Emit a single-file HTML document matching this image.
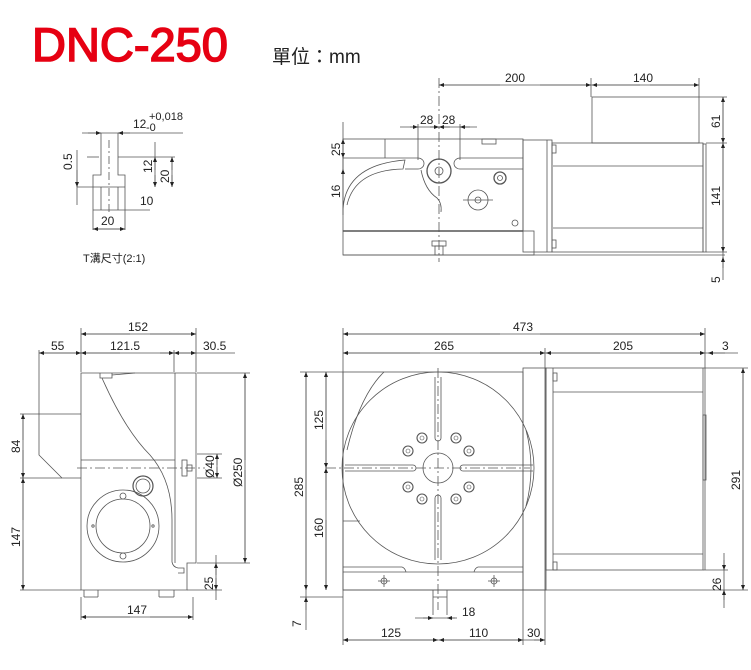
<!DOCTYPE html>
<html><head><meta charset="utf-8"><style>
html,body{margin:0;padding:0;background:#fff;width:751px;height:670px;overflow:hidden}
svg{display:block}
text{font-family:"Liberation Sans","Noto Sans CJK TC",sans-serif;fill:#222;font-size:12px}
</style></head><body>
<svg width="751" height="670" viewBox="0 0 751 670" xmlns="http://www.w3.org/2000/svg">
<defs>
<marker id="a" viewBox="0 0 10 10" refX="10" refY="5" markerWidth="7" markerHeight="5" orient="auto-start-reverse" markerUnits="userSpaceOnUse"><path d="M0,1 L10,5 L0,9 z" fill="#222"/></marker>
</defs>
<text x="32" y="61" style="font-size:47px;font-weight:normal;fill:#e60012;stroke:#e60012;stroke-width:1.6">DNC-250</text>
<text x="272" y="63" style="font-size:19px;fill:#222;font-family:'Liberation Sans','Noto Sans CJK TC',sans-serif">單位：mm</text>

<g stroke="#555" stroke-width="0.8" fill="none">
<!-- T slot -->
<line x1="82" y1="133" x2="183" y2="133"/>
<line x1="88" y1="133" x2="101" y2="133" marker-end="url(#a)"/>
<line x1="130" y1="133" x2="118" y2="133" marker-end="url(#a)"/>
<path d="M101,133 V175 H93 V230 M118,133 V175 H125 V230"/>
<path d="M101,187 V210 M118,187 V210"/>
<line x1="77" y1="187" x2="125" y2="187"/>
<line x1="87" y1="157" x2="99" y2="157"/>
<line x1="118" y1="157" x2="175" y2="157"/>
<line x1="109" y1="140" x2="109" y2="215" stroke-dasharray="8,3,2,3"/>
<line x1="77" y1="150" x2="77" y2="205"/>
<line x1="77" y1="170" x2="77" y2="187" marker-end="url(#a)"/>
<line x1="155" y1="142" x2="155" y2="187"/>
<line x1="155" y1="170" x2="155" y2="157" marker-end="url(#a)"/>
<line x1="155" y1="175" x2="155" y2="187" marker-end="url(#a)"/>
<line x1="172" y1="157" x2="172" y2="187"/>
<line x1="172" y1="170" x2="172" y2="157" marker-end="url(#a)"/>
<line x1="172" y1="175" x2="172" y2="187" marker-end="url(#a)"/>
<line x1="93" y1="210" x2="150" y2="210"/>
<line x1="93" y1="229" x2="125" y2="229"/>
<line x1="109" y1="229" x2="93" y2="229" marker-end="url(#a)"/>
<line x1="109" y1="229" x2="125" y2="229" marker-end="url(#a)"/>

<!-- side view top right -->
<line x1="439" y1="85" x2="699" y2="85"/>
<line x1="500" y1="85" x2="439" y2="85" marker-end="url(#a)"/>
<line x1="540" y1="85" x2="591" y2="85" marker-end="url(#a)"/>
<line x1="640" y1="85" x2="592" y2="85" marker-end="url(#a)"/>
<line x1="650" y1="85" x2="699" y2="85" marker-end="url(#a)"/>
<line x1="439" y1="78" x2="439" y2="262" stroke-dasharray="10,3,2,3"/>
<line x1="699" y1="78" x2="699" y2="97"/>
<line x1="591" y1="78" x2="591" y2="97"/>
<rect x="592" y="97" width="107" height="46"/>
<line x1="699" y1="97" x2="727" y2="97"/>
<line x1="706" y1="143" x2="727" y2="143"/>
<line x1="706" y1="252" x2="727" y2="252"/>
<line x1="723" y1="97" x2="723" y2="280"/>
<line x1="723" y1="120" x2="723" y2="97" marker-end="url(#a)"/>
<line x1="723" y1="120" x2="723" y2="143" marker-end="url(#a)"/>
<line x1="723" y1="190" x2="723" y2="143" marker-end="url(#a)"/>
<line x1="723" y1="200" x2="723" y2="252" marker-end="url(#a)"/>
<line x1="723" y1="268" x2="723" y2="257" marker-end="url(#a)"/>
<rect x="343" y="139" width="180" height="92"/>
<rect x="343" y="231" width="191" height="24"/>
<line x1="343" y1="231" x2="523" y2="231" stroke-width="1.6"/>
<line x1="343" y1="158" x2="418" y2="158"/><line x1="460" y1="158" x2="523" y2="158"/>
<line x1="405" y1="169" x2="418" y2="169"/><line x1="460" y1="169" x2="523" y2="169"/>
<path d="M418,158 A6,5.5 0 0 1 418,169 M460,158 A6,5.5 0 0 0 460,169"/>
<path d="M421,170 Q425,190 437,198 Q442,203 441,212"/>
<line x1="385" y1="139" x2="385" y2="158"/>
<path d="M343,210 Q345,165 405,160 L403,169 Q355,170 347,205"/>
<rect x="482" y="139" width="14" height="5"/>
<circle cx="439" cy="171" r="12" stroke-width="1.3"/>
<circle cx="439" cy="171" r="4"/>
<circle cx="500" cy="178" r="6" stroke-width="1.3"/><circle cx="500" cy="178" r="2.5"/>
<circle cx="478" cy="200" r="10"/><circle cx="478" cy="200" r="3"/>
<line x1="463" y1="200" x2="493" y2="200"/>
<circle cx="515" cy="223" r="3"/>
<rect x="523" y="140" width="29" height="112"/>
<line x1="547" y1="140" x2="547" y2="252"/>
<rect x="552" y="143" width="151" height="109"/>
<line x1="553" y1="166" x2="703" y2="166"/>
<line x1="553" y1="228" x2="703" y2="228"/>
<rect x="703" y="144" width="3" height="108"/>
<rect x="552" y="145" width="4" height="8"/><rect x="552" y="240" width="4" height="8"/>
<rect x="432" y="241" width="14" height="5"/><rect x="435" y="246" width="8" height="9"/>
<line x1="343" y1="255" x2="725" y2="255"/>
<line x1="400" y1="127" x2="477" y2="127"/>
<line x1="410" y1="127" x2="418" y2="127" marker-end="url(#a)"/>
<line x1="430" y1="127" x2="439" y2="127" marker-end="url(#a)"/>
<line x1="450" y1="127" x2="439" y2="127" marker-end="url(#a)"/>
<line x1="470" y1="127" x2="460" y2="127" marker-end="url(#a)"/>
<line x1="418" y1="124" x2="418" y2="160"/><line x1="460" y1="124" x2="460" y2="160"/>
<line x1="343" y1="122" x2="343" y2="215"/>
<line x1="343" y1="150" x2="343" y2="139" marker-end="url(#a)"/>
<line x1="343" y1="150" x2="343" y2="158" marker-end="url(#a)"/>
<line x1="343" y1="190" x2="343" y2="169" marker-end="url(#a)"/>

<!-- front view left -->
<line x1="81" y1="334" x2="196" y2="334"/>
<line x1="130" y1="334" x2="81" y2="334" marker-end="url(#a)"/>
<line x1="150" y1="334" x2="196" y2="334" marker-end="url(#a)"/>
<line x1="39" y1="353" x2="235" y2="353"/>
<line x1="60" y1="353" x2="81" y2="353" marker-end="url(#a)"/>
<line x1="60" y1="353" x2="39" y2="353" marker-end="url(#a)"/>
<line x1="120" y1="353" x2="81" y2="353" marker-end="url(#a)"/>
<line x1="160" y1="353" x2="174" y2="353" marker-end="url(#a)"/>
<line x1="185" y1="353" x2="174" y2="353" marker-end="url(#a)"/>
<line x1="185" y1="353" x2="196" y2="353" marker-end="url(#a)"/>
<line x1="81" y1="328" x2="81" y2="372"/><line x1="196" y1="328" x2="196" y2="372"/>
<line x1="39" y1="350" x2="39" y2="414"/><line x1="174" y1="350" x2="174" y2="372"/>
<path d="M81,373 H196 V563 H187 V590 H81 Z"/>
<line x1="175" y1="373" x2="175" y2="563"/>
<line x1="81" y1="460" x2="175" y2="460"/>
<path d="M81,414 H39 V455 L62,478 H81"/>
<line x1="20" y1="414" x2="39" y2="414"/><line x1="20" y1="478" x2="62" y2="478"/><line x1="20" y1="590" x2="81" y2="590"/>
<line x1="23" y1="414" x2="23" y2="590"/>
<line x1="23" y1="440" x2="23" y2="414" marker-end="url(#a)"/>
<line x1="23" y1="450" x2="23" y2="478" marker-end="url(#a)"/>
<line x1="23" y1="520" x2="23" y2="478" marker-end="url(#a)"/>
<line x1="23" y1="540" x2="23" y2="590" marker-end="url(#a)"/>
<line x1="77" y1="468" x2="205" y2="468" stroke-dasharray="10,3,2,3"/>
<path d="M102,378 Q125,430 150,455 Q172,480 172,520 V562 Q173,567 178,568 H184 V573 H178"/>
<path d="M100,373 V378 H112 V373 M112,375 L135,373"/>
<circle cx="123" cy="526" r="36"/><circle cx="123" cy="526" r="27"/>
<circle cx="123" cy="496" r="3"/><circle cx="123" cy="556" r="3"/>
<circle cx="93" cy="526" r="1.2"/><circle cx="153" cy="526" r="1.2"/>
<circle cx="143" cy="486" r="10" stroke-width="1.2"/><circle cx="143" cy="486" r="7"/>
<rect x="182" y="460" width="5" height="16"/><rect x="187" y="465" width="5" height="6"/>
<line x1="84" y1="590" x2="84" y2="597"/><line x1="98" y1="590" x2="98" y2="597"/><line x1="84" y1="597" x2="98" y2="597"/>
<line x1="159" y1="590" x2="159" y2="597"/><line x1="174" y1="590" x2="174" y2="597"/><line x1="159" y1="597" x2="174" y2="597"/>
<line x1="197" y1="454" x2="222" y2="454"/><line x1="197" y1="478" x2="222" y2="478"/>
<line x1="217" y1="454" x2="217" y2="478"/>
<line x1="217" y1="465" x2="217" y2="454" marker-end="url(#a)"/>
<line x1="217" y1="467" x2="217" y2="478" marker-end="url(#a)"/>
<line x1="197" y1="373" x2="250" y2="373"/><line x1="197" y1="563" x2="250" y2="563"/>
<line x1="245" y1="373" x2="245" y2="563"/>
<line x1="245" y1="460" x2="245" y2="373" marker-end="url(#a)"/>
<line x1="245" y1="470" x2="245" y2="563" marker-end="url(#a)"/>
<line x1="187" y1="590" x2="222" y2="590"/>
<line x1="216" y1="555" x2="216" y2="600"/>
<line x1="216" y1="575" x2="216" y2="563" marker-end="url(#a)"/>
<line x1="216" y1="578" x2="216" y2="590" marker-end="url(#a)"/>
<line x1="81" y1="597" x2="81" y2="620"/><line x1="193" y1="597" x2="193" y2="620"/>
<line x1="81" y1="617" x2="193" y2="617"/>
<line x1="130" y1="617" x2="81" y2="617" marker-end="url(#a)"/>
<line x1="150" y1="617" x2="193" y2="617" marker-end="url(#a)"/>

<!-- top view right -->
<line x1="343" y1="334" x2="705" y2="334"/>
<line x1="500" y1="334" x2="343" y2="334" marker-end="url(#a)"/>
<line x1="540" y1="334" x2="705" y2="334" marker-end="url(#a)"/>
<line x1="343" y1="353" x2="738" y2="353"/>
<line x1="420" y1="353" x2="343" y2="353" marker-end="url(#a)"/>
<line x1="480" y1="353" x2="545" y2="353" marker-end="url(#a)"/>
<line x1="600" y1="353" x2="546" y2="353" marker-end="url(#a)"/>
<line x1="660" y1="353" x2="705" y2="353" marker-end="url(#a)"/>
<line x1="725" y1="353" x2="708" y2="353" marker-end="url(#a)"/>
<line x1="343" y1="328" x2="343" y2="645"/>
<line x1="705" y1="328" x2="705" y2="570"/>
<line x1="545" y1="348" x2="545" y2="645"/>
<rect x="343" y="372" width="180" height="218"/>
<line x1="343" y1="572" x2="523" y2="572"/>
<line x1="343" y1="521" x2="360" y2="521"/>
<path d="M343,567 H402 Q405,568 406,572 M474,572 Q475,568 478,567 H523"/>
<path d="M347,450 Q360,395 384,372"/>
<circle cx="438" cy="468" r="96"/>
<path d="M526,430 Q536,468 526,506"/>
<rect x="523" y="368" width="23" height="222"/>
<rect x="546" y="368" width="157" height="202"/>
<line x1="553" y1="368" x2="553" y2="570"/>
<line x1="553" y1="392" x2="703" y2="392"/>
<line x1="553" y1="554" x2="703" y2="554"/>
<rect x="553" y="373" width="4" height="8"/><rect x="553" y="562" width="4" height="8"/>
<rect x="703" y="415" width="3" height="65"/>
<line x1="343" y1="590" x2="748" y2="590"/>
<line x1="300" y1="372" x2="343" y2="372"/>
<line x1="300" y1="597" x2="343" y2="597"/>
<line x1="306" y1="372" x2="306" y2="630"/>
<line x1="306" y1="480" x2="306" y2="372" marker-end="url(#a)"/>
<line x1="306" y1="480" x2="306" y2="590" marker-end="url(#a)"/>
<line x1="306" y1="610" x2="306" y2="597" marker-end="url(#a)"/>
<line x1="326" y1="372" x2="326" y2="590"/>
<line x1="326" y1="420" x2="326" y2="372" marker-end="url(#a)"/>
<line x1="326" y1="440" x2="326" y2="468" marker-end="url(#a)"/>
<line x1="326" y1="500" x2="326" y2="468" marker-end="url(#a)"/>
<line x1="326" y1="520" x2="326" y2="590" marker-end="url(#a)"/>
<line x1="326" y1="468" x2="530" y2="468" stroke-dasharray="10,3,2,3"/>
<line x1="438" y1="368" x2="438" y2="610" stroke-dasharray="10,3,2,3"/>
<path d="M435,438 V377 M441,438 V377 M435,438 A3,3 0 0 0 441,438"/>
<path d="M435,498 V560 M441,498 V560 M435,498 A3,3 0 0 1 441,498"/>
<path d="M413,465 H345 M413,471 H345 M413,465 A3,3 0 0 1 413,471"/>
<path d="M463,465 H533 M463,471 H533 M463,465 A3,3 0 0 0 463,471"/>
<circle cx="438" cy="468" r="15"/>
<g stroke-width="1.1">
<circle cx="422" cy="438" r="5"/><circle cx="456" cy="438" r="5"/>
<circle cx="408" cy="451" r="5"/><circle cx="469" cy="451" r="5"/>
<circle cx="408" cy="487" r="5"/><circle cx="469" cy="487" r="5"/>
<circle cx="422" cy="499" r="5"/><circle cx="456" cy="499" r="5"/>
</g>
<g stroke-width="0.6">
<circle cx="422" cy="438" r="2"/><circle cx="456" cy="438" r="2"/>
<circle cx="408" cy="451" r="2"/><circle cx="469" cy="451" r="2"/>
<circle cx="408" cy="487" r="2"/><circle cx="469" cy="487" r="2"/>
<circle cx="422" cy="499" r="2"/><circle cx="456" cy="499" r="2"/>
</g>
<circle cx="384" cy="581" r="3"/><line x1="378" y1="581" x2="390" y2="581"/><line x1="384" y1="575" x2="384" y2="587"/>
<circle cx="494" cy="581" r="3"/><line x1="488" y1="581" x2="500" y2="581"/><line x1="494" y1="575" x2="494" y2="587"/>
<path d="M433,590 V615 M447,590 V615 M433,597 H447"/>
<line x1="415" y1="618" x2="455" y2="618"/>
<line x1="423" y1="618" x2="433" y2="618" marker-end="url(#a)"/>
<line x1="457" y1="618" x2="447" y2="618" marker-end="url(#a)"/>
<line x1="523" y1="590" x2="523" y2="645"/>
<line x1="343" y1="640" x2="545" y2="640"/>
<line x1="390" y1="640" x2="343" y2="640" marker-end="url(#a)"/>
<line x1="400" y1="640" x2="438" y2="640" marker-end="url(#a)"/>
<line x1="480" y1="640" x2="439" y2="640" marker-end="url(#a)"/>
<line x1="490" y1="640" x2="523" y2="640" marker-end="url(#a)"/>
<line x1="534" y1="640" x2="545" y2="640" marker-end="url(#a)"/>
<line x1="703" y1="368" x2="748" y2="368"/>
<line x1="743" y1="368" x2="743" y2="590"/>
<line x1="743" y1="470" x2="743" y2="368" marker-end="url(#a)"/>
<line x1="743" y1="490" x2="743" y2="590" marker-end="url(#a)"/>
<line x1="724" y1="553" x2="724" y2="608"/>
<line x1="724" y1="560" x2="724" y2="570" marker-end="url(#a)"/>
<line x1="724" y1="600" x2="724" y2="590" marker-end="url(#a)"/>
<line x1="703" y1="570" x2="728" y2="570"/>
</g>

<!-- text -->
<text x="133" y="128">12</text>
<text x="149" y="120" style="font-size:11px">+0,018</text>
<text x="146" y="131" style="font-size:11px">-0</text>
<text x="140" y="205">10</text>
<text x="101" y="225">20</text>
<text transform="translate(72,170) rotate(-90)">0.5</text>
<text transform="translate(152,173) rotate(-90)">12</text>
<text transform="translate(169,183) rotate(-90)">20</text>
<text x="83" y="262" style="font-size:11px">T溝尺寸(2:1)</text>

<text x="505" y="82">200</text>
<text x="633" y="82">140</text>
<text x="420" y="124">28</text>
<text x="442" y="124">28</text>
<text transform="translate(720,128) rotate(-90)">61</text>
<text transform="translate(720,206) rotate(-90)">141</text>
<text transform="translate(720,283) rotate(-90)">5</text>
<text transform="translate(340,156) rotate(-90)">25</text>
<text transform="translate(340,198) rotate(-90)">16</text>

<text x="128" y="331">152</text>
<text x="51" y="350">55</text>
<text x="110" y="350">121.5</text>
<text x="203" y="350">30.5</text>
<text transform="translate(20,453) rotate(-90)">84</text>
<text transform="translate(20,547) rotate(-90)">147</text>
<text transform="translate(214,478) rotate(-90)">Ø40</text>
<text transform="translate(242,487) rotate(-90)">Ø250</text>
<text transform="translate(213,590) rotate(-90)">25</text>
<text x="127" y="614">147</text>

<text x="513" y="331">473</text>
<text x="434" y="350">265</text>
<text x="613" y="350">205</text>
<text x="722" y="350">3</text>
<text transform="translate(303,497) rotate(-90)">285</text>
<text transform="translate(323,430) rotate(-90)">125</text>
<text transform="translate(323,538) rotate(-90)">160</text>
<text transform="translate(301,627) rotate(-90)">7</text>
<text transform="translate(740,490) rotate(-90)">291</text>
<text transform="translate(721,591) rotate(-90)">26</text>
<text x="462" y="616">18</text>
<text x="381" y="637">125</text>
<text x="469" y="637">110</text>
<text x="527" y="637">30</text>
</svg>
</body></html>
